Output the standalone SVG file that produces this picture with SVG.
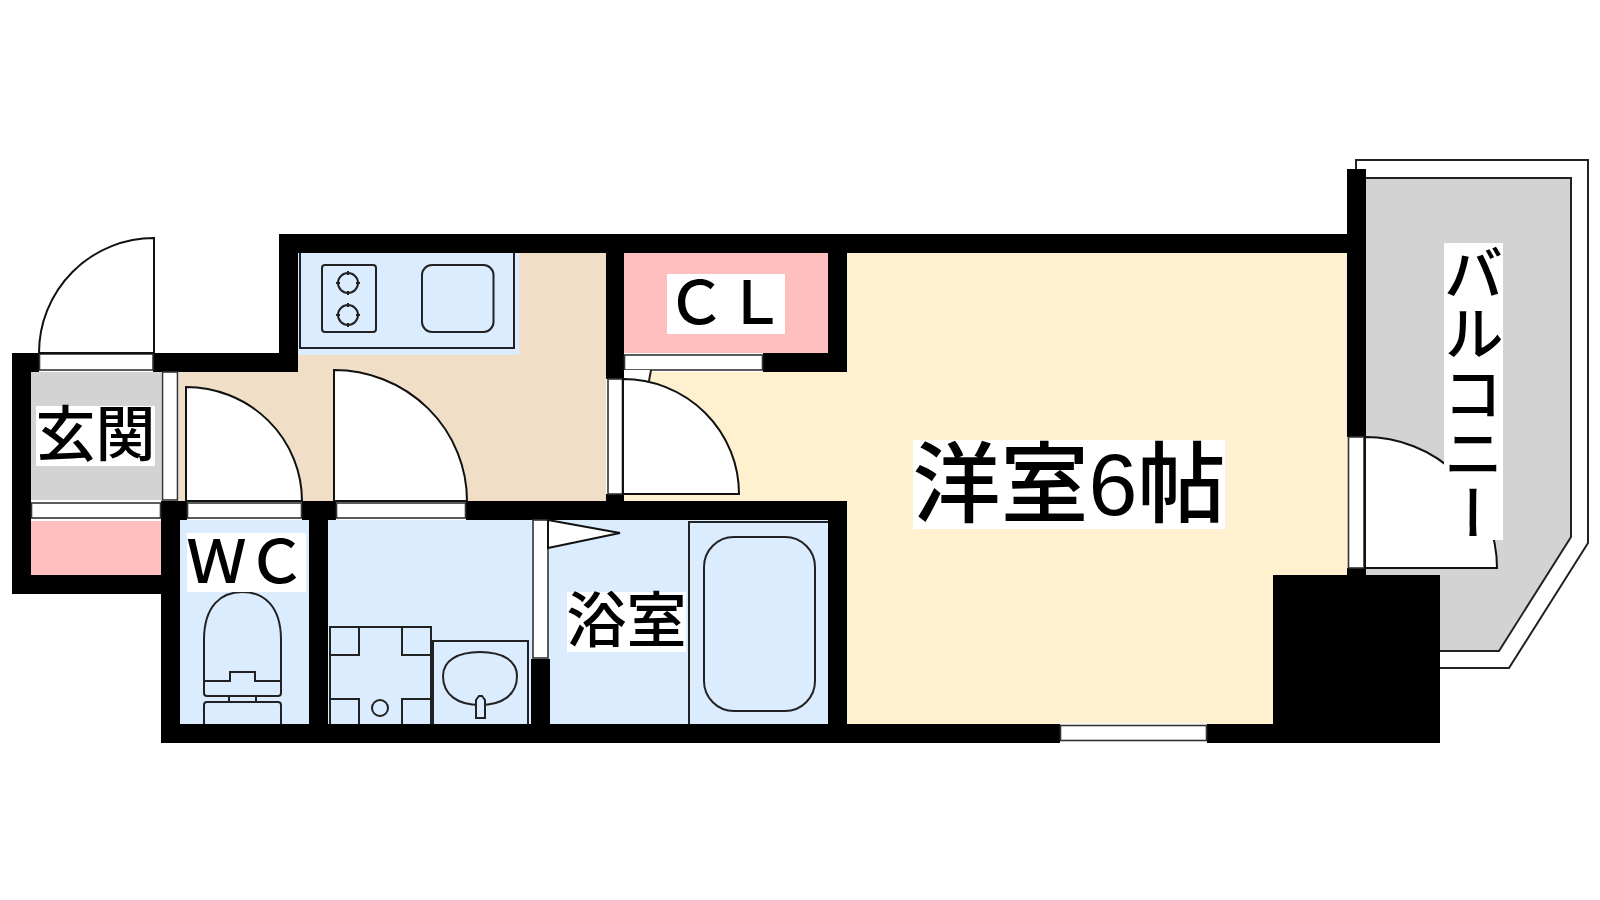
<svg xmlns="http://www.w3.org/2000/svg" width="1600" height="900" viewBox="0 0 1600 900">
<style>
.w{fill:#000}
.f{fill:#fff;stroke:#333;stroke-width:1.6}
.l{fill:none;stroke:#222;stroke-width:2}
.d{fill:#fff;stroke:#111;stroke-width:2}
.b{fill:#fff}
.t{font-family:"Noto Sans CJK JP","Noto Sans CJK SC",sans-serif;font-size:60px;font-weight:500;fill:#000;text-anchor:middle}
</style>
<rect width="1600" height="900" fill="#fff"/>
<g id="floors">
<path id="balcony-floor" fill="#d3d3d3" d="M1366 178H1571V537L1499 651H1366Z"/>
<rect x="31" y="372" width="130" height="128" fill="#d3d3d3"/>
<rect x="31" y="521" width="130" height="54" fill="#ffbfbf"/>
<path fill="#f0dfc6" d="M298 253H606V501H179V372H298Z"/>
<rect x="298" y="253" width="221" height="102" fill="#dbecff"/>
<rect x="624" y="253" width="204" height="100" fill="#ffbfbf"/>
<path fill="#fff0cf" d="M847 253H1348V724H847V501H624V372H847Z"/>
<rect x="180" y="520" width="129" height="204" fill="#dbecff"/>
<rect x="328" y="520" width="500" height="204" fill="#dbecff"/>
</g>
<g id="balcony-rail" class="l">
<path d="M1356 178V160H1588V543L1509 668H1430"/>
<path d="M1366 178H1571V537L1499 651H1430"/>
</g>
<g id="walls" class="w">
<path d="M12 353H279V234H1347V169H1366V437H1347V253H847V372H763V353H828V253H624V379H606V253H298V372H31V575H161V594H12Z"/>
<rect x="161" y="501" width="19" height="242"/>
<rect x="161" y="501" width="686" height="19"/>
<rect x="828" y="501" width="19" height="242"/>
<rect x="161" y="724" width="1279" height="19"/>
<rect x="1273" y="575" width="167" height="168"/>
<rect x="309" y="501" width="19" height="223"/>
<rect x="531" y="659" width="19" height="65"/>
<rect x="606" y="494" width="18" height="8"/>
<rect x="1347" y="568" width="19" height="8"/>
</g>
<g id="openings">
<rect class="b" x="39" y="353" width="114" height="19"/><rect class="f" x="39.500" y="354" width="113.500" height="16"/>
<rect class="f" x="162.500" y="372" width="15" height="128"/>
<rect class="b" x="31" y="500" width="130" height="21"/><rect class="f" x="31.500" y="503" width="129" height="15"/>
<rect class="b" x="187" y="501" width="115" height="19"/><rect class="f" x="187.500" y="503" width="114" height="15"/>
<rect class="b" x="336" y="501" width="130" height="19"/><rect class="f" x="336.500" y="503" width="129" height="15"/>
<rect class="f" x="533" y="520" width="15" height="138"/>
<rect class="f" x="608" y="379" width="14.500" height="115"/>
<rect class="b" x="624" y="353" width="139" height="19"/><rect class="f" x="624.500" y="355" width="138" height="15"/>
<rect class="f" x="1348.500" y="437" width="15.500" height="131"/>
<rect class="b" x="1060" y="723" width="147" height="20"/><rect class="f" x="1060.500" y="725.500" width="146" height="15"/>
</g>
<g id="doors">
<path class="d" d="M154 353V238A115 115 0 0 0 39 353Z"/>
<path class="d" d="M186 501V387A116 114 0 0 1 302 501Z"/>
<path class="d" d="M334 501V370A133 131 0 0 1 467 501Z"/>
<path fill="#fff" d="M624 370H650L648 380H624Z"/>
<path class="l" d="M651 370L649 381"/>
<path class="d" d="M623 494V379A116 115 0 0 1 739 494Z"/>
<path class="d" d="M548 520L620 533L548 548Z"/>
<path class="d" d="M1365 568V437A132 131 0 0 1 1497 568Z"/>
</g>
<g id="kitchen" class="l">
<path d="M300 253V348H514V253"/>
<rect x="322" y="265" width="54" height="67" rx="3"/>
<circle cx="348" cy="283" r="10"/><circle cx="348" cy="315" r="10"/>
<path d="M348 271V275M348 291V295M336 283H340M356 283H360M348 303V307M348 323V327M336 315H340M356 315H360"/>
<rect x="422" y="265" width="71.500" height="67" rx="10"/>
</g>
<g id="washroom" class="l">
<path d="M330 724V627H431V724M330 655H359V627M402 627V655H431M330 699H359V724M402 724V699H431"/>
<circle cx="380" cy="708" r="8"/>
<path d="M433 724V641H528V724"/>
<path d="M480 652C503 652 517 661 517 676C517 695 502 705 480 705C458 705 443 695 443 676C443 661 457 652 480 652Z"/>
<path fill="#dbecff" d="M476 718V700L479 696H482L485 700V718Z"/>
</g>
<g id="toilet" class="l">
<path d="M204 681V640C204 605 222 592 242 592C263 592 281 605 281 640V693Q281 696 278 696H207Q204 696 204 693Z"/>
<path d="M204 681H230V672H255V681H281"/>
<path d="M229 696V702H256V696"/>
<path d="M204 724V705Q204 702 207 702H278Q281 702 281 705V724"/>
</g>
<g id="bath" class="l">
<path d="M689 724V522H828"/>
<rect x="704" y="537" width="111" height="174" rx="30"/>
</g>
<g id="labels">
<g id="label-genkan"><rect class="b" x="36" y="406" width="119" height="60"/><text class="t" x="95.500" y="456">玄関</text></g>
<g id="label-wc"><rect class="b" x="187" y="533" width="119" height="59"/><text class="t" x="246.500" y="583">ＷＣ</text></g>
<g id="label-cl"><rect class="b" x="667" y="274" width="118" height="60"/><text class="t" x="726" y="324">ＣＬ</text></g>
<g id="label-bath"><rect class="b" x="567" y="592" width="119" height="60"/><text class="t" x="626.500" y="642">浴室</text></g>
<g id="label-room"><rect class="b" x="913" y="440" width="312" height="89"/><text class="t" x="1069" y="515" style="font-size:88px;font-family:'Liberation Sans','Noto Sans CJK JP',sans-serif">洋室6帖</text></g>
<g id="label-balcony"><rect class="b" x="1444" y="243" width="59" height="297"/><text class="t" x="1473.500" y="243" style="writing-mode:vertical-rl;text-anchor:start">バルコニー</text></g>
</g>
</svg>
